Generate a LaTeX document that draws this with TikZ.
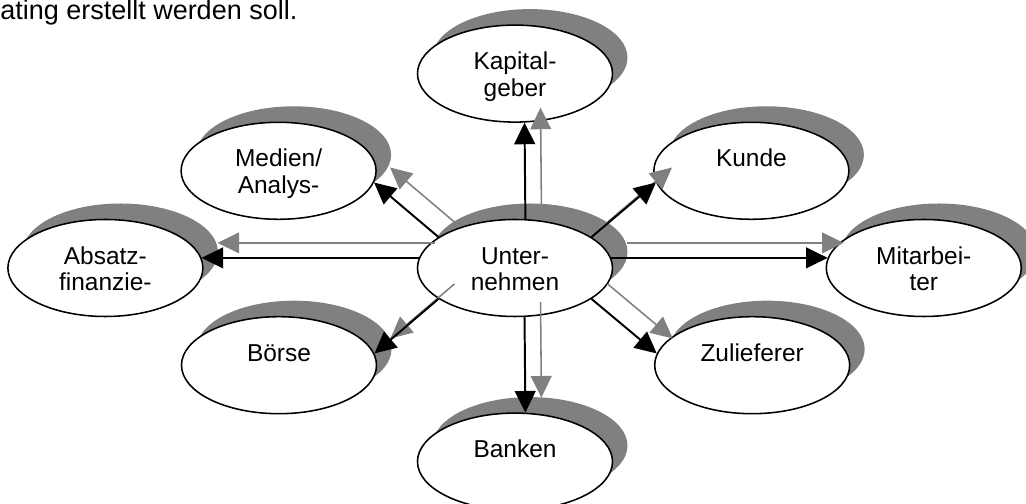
\documentclass[tikz,border=0pt]{standalone}
\usepackage{fontspec}
\setmainfont{Liberation Sans}
\usetikzlibrary{arrows.meta,shapes.geometric,shadows}
\definecolor{shadegray}{RGB}{128,128,128}
\tikzset{
  partner/.style={draw,ellipse,fill=white,line width=1.1pt,minimum width=48.75mm,minimum height=24.25mm,inner sep=0pt,align=center,text height=4.5mm,text depth=6.5mm,font=\fontsize{17.4}{19.1}\selectfont,drop shadow={shadow xshift=3.75mm,shadow yshift=4mm,fill=shadegray,opacity=1}},
  twolines/.style={text height=12.5mm,text depth=1mm},
  arrow/.style={-{Triangle[length=5.4mm,width=5.2mm]},line width=1.4pt},
  shadearrow/.style={arrow,shadegray,line width=1.1pt,transform canvas={shift={(4mm,3.75mm)}}}
}

\begin{document}
\begin{tikzpicture}
\useasboundingbox (-12.875,-5.9) rectangle (12.775,6.7);
% leftover line of the page text
\node[anchor=base west,inner sep=0pt,font=\fontsize{19.2}{21}\selectfont] (pagetext) at (-12.875,6.2) {ating erstellt werden soll.};
% company and its partners
\node[partner,twolines] (unt) at (0,0) {Unter-\\nehmen};
\node[partner,twolines] (kap) at (0,4.86) {Kapital-\\geber};
\node[partner,twolines] (med) at (-5.91,2.43) {Medien/\\Analys-};
\node[partner] (kun) at (5.91,2.43) {Kunde};
\node[partner,twolines] (abs) at (-10.24,0) {Absatz-\\finanzie-};
\node[partner,twolines] (mit) at (10.22,0) {Mitarbei-\\ter};
\node[partner] (boe) at (-5.9,-2.43) {Börse};
\node[partner] (zul) at (5.93,-2.43) {Zulieferer};
\node[partner] (ban) at (0,-4.84) {Banken};
% relations, each with its grey shadow
\foreach \p/\s/\e in {kap/78.3/281.7,ban/281.7/78.3,abs/174/6,mit/6/174,med/158/353,kun/22/187,boe/202/7,zul/338/173}{
  \draw[shadearrow] (unt.\s) -- (\p.\e);
  \draw[arrow] (unt.\s) -- (\p.\e);
}
\end{tikzpicture}
\end{document}
